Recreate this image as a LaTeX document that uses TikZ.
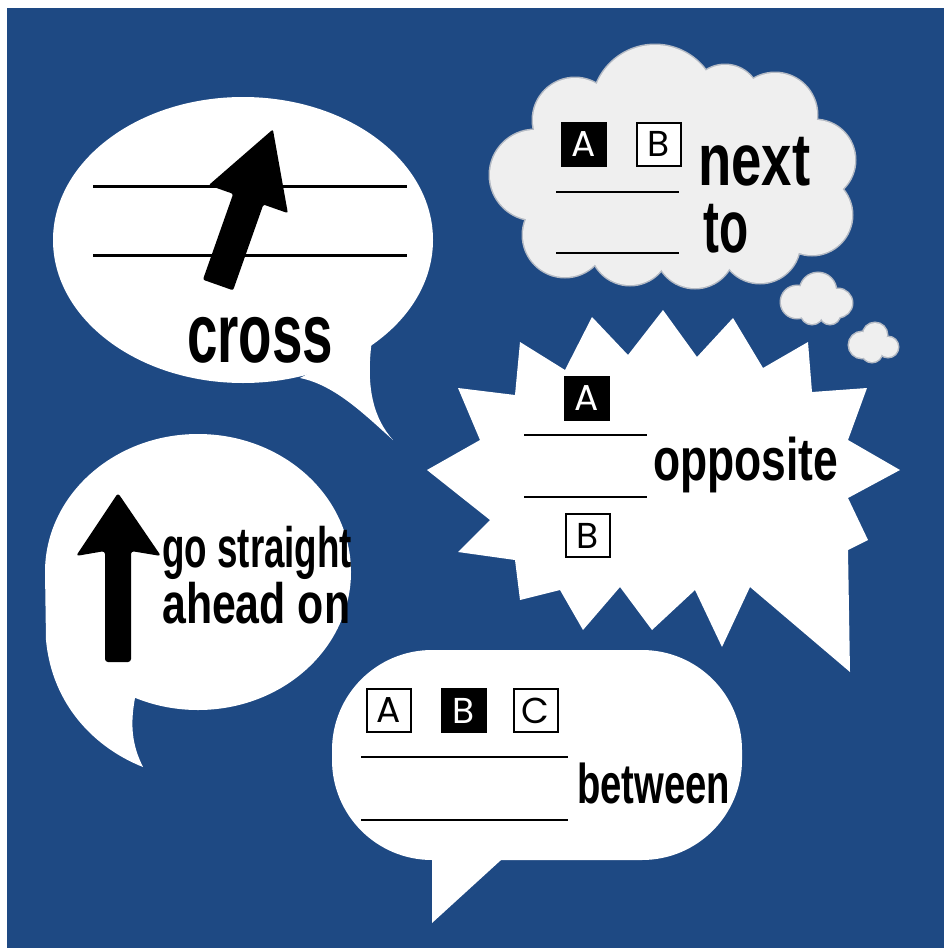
\documentclass[tikz,border=0pt]{standalone}
\usepackage{fontspec}
\newfontfamily\dinfont{Liberation Sans}
\newfontfamily\geofont{Poppins}
\definecolor{bgblue}{HTML}{1E4983}
\definecolor{cloudgray}{HTML}{EFEFEF}
\definecolor{cloudedge}{HTML}{B4BAC4}
\newcommand\dtext[3]{\resizebox{#1pt}{\height}{\dinfont\bfseries\fontsize{#2}{#2}\selectfont #3}}
\begin{document}
\begin{tikzpicture}[x=1pt,y=-1pt,
  bubble/.style={fill=white},
  rulel/.style={line width=2.5pt, black},
  blackbox/.style={fill=black, text=white, minimum width=46pt, minimum height=45pt, inner sep=0pt, font=\geofont\fontsize{36}{36}\selectfont},
  whitebox/.style={draw=black, line width=2pt, fill=white, text=black, minimum width=44pt, minimum height=43pt, inner sep=0pt, font=\geofont\fontsize{36}{36}\selectfont},
  word/.style={anchor=base west, inner sep=0pt}]
\useasboundingbox (0,0) rectangle (944,948);
\fill[white] (0,0) rectangle (944,948);
\fill[bgblue] (7,8) rectangle (944,948);

% ---- bubble 1: cross
\fill[bubble] (243,240) ellipse [x radius=190pt, y radius=143pt];
\fill[bubble] (300,378) .. controls (335,385) and (365,415) .. (393,440)
  .. controls (375,420) and (365,390) .. (372,340) -- cycle;
\draw[line width=3pt] (93,186) -- (407,186);
\draw[line width=3pt] (93,255) -- (407,255);
\begin{scope}[shift={(218,285)}, rotate=70.57]
\fill[black, rounded corners=2pt] (0,-16) -- (91,-16) -- (91,-42) -- (165,0) -- (91,42) -- (91,16) -- (0,16) -- cycle;
\end{scope}
\node[word] (tcross) at (187,362) {\dtext{146}{84}{cross}};

% ---- thought cloud: next to
\foreach \cx/\cy/\r in {655/108/63, 575/120/42, 535/175/45, 565/235/42, 630/245/40, 695/248/40, 760/243/40, 812/215/40, 815/160/40, 775/115/42, 725/100/35,
  797/302/16, 818/291/18, 838/303/14, 812/313/11, 830/314/10,
  862/345/13, 875/335/12, 888/347/10, 872/352/10}
  \draw[cloudedge, line width=3pt] (\cx,\cy) circle [radius=\r pt];
\fill[cloudgray] (670,180) ellipse [x radius=140pt, y radius=80pt];
\foreach \cx/\cy/\r in {655/108/63, 575/120/42, 535/175/45, 565/235/42, 630/245/40, 695/248/40, 760/243/40, 812/215/40, 815/160/40, 775/115/42, 725/100/35,
  797/302/16, 818/291/18, 838/303/14, 812/313/11, 830/314/10,
  862/345/13, 875/335/12, 888/347/10, 872/352/10}
  \fill[cloudgray] (\cx,\cy) circle [radius=\r pt];
\node[blackbox] (nA) at (584,144.5) {A};
\node[whitebox] (nB) at (658.5,144) {B};
\draw[rulel] (556,192) -- (679,192);
\draw[rulel] (556,253) -- (679,253);
\node[word] (tnext) at (698,185) {\dtext{112}{74}{next}};
\node[word] (tto) at (703,252) {\dtext{45}{74}{to}};

% ---- starburst: opposite
\fill[bubble] (520,342) -- (565,370) -- (592,317) -- (628,355) -- (663,310) -- (697,357) -- (733,318) -- (763,368) -- (808,342) -- (812,392) -- (867,388) -- (848,440) -- (900,470) -- (848,498) -- (868,540) -- (848,550) -- (850,672) -- (750,587) -- (722,647) -- (695,590) -- (652,630) -- (620,587) -- (583,630) -- (560,590) -- (520,600) -- (515,560) -- (458,552) -- (490,520) -- (427,470) -- (480,440) -- (458,388) -- (515,395) -- cycle;
\node[blackbox] (oA) at (586.5,398) {A};
\node[whitebox] (oB) at (588,535.5) {B};
\draw[rulel] (524,435) -- (647,435);
\draw[rulel] (524,497) -- (647,497);
\node[word] (topp) at (653,480) {\dtext{185}{60}{opposite}};

% ---- bubble 3: go straight ahead on
\fill[bubble] (198,572) ellipse [x radius=153pt, y radius=138pt];
\fill[bubble] (45,572) -- (46,640) .. controls (52,705) and (95,748) .. (143,767)
  .. controls (132,745) and (130,725) .. (135,698) -- (140,640) -- cycle;
\fill[black, rounded corners=3pt] (118,493) -- (161,556) -- (131,551) -- (131,662) -- (105,662) -- (105,551) -- (76,556) -- cycle;
\node[word] (tgo) at (162,567) {\dtext{190}{57}{go straight}};
\node[word] (tahead) at (162,623) {\dtext{188}{57}{ahead on}};

% ---- bubble 4: between
\fill[bubble, rounded corners=100pt] (332,650) rectangle (742,860);
\fill[bubble] (432,850) -- (432,923) -- (512,850) -- cycle;
\node[whitebox] (bA) at (389,710.5) {A};
\node[blackbox] (bB) at (463.5,710.5) {B};
\node[whitebox] (bC) at (535.5,710.5) {C};
\draw[rulel] (361,757) -- (568,757);
\draw[rulel] (361,820) -- (568,820);
\node[word] (tbetween) at (577,803) {\dtext{153}{56}{between}};
\end{tikzpicture}
\end{document}
